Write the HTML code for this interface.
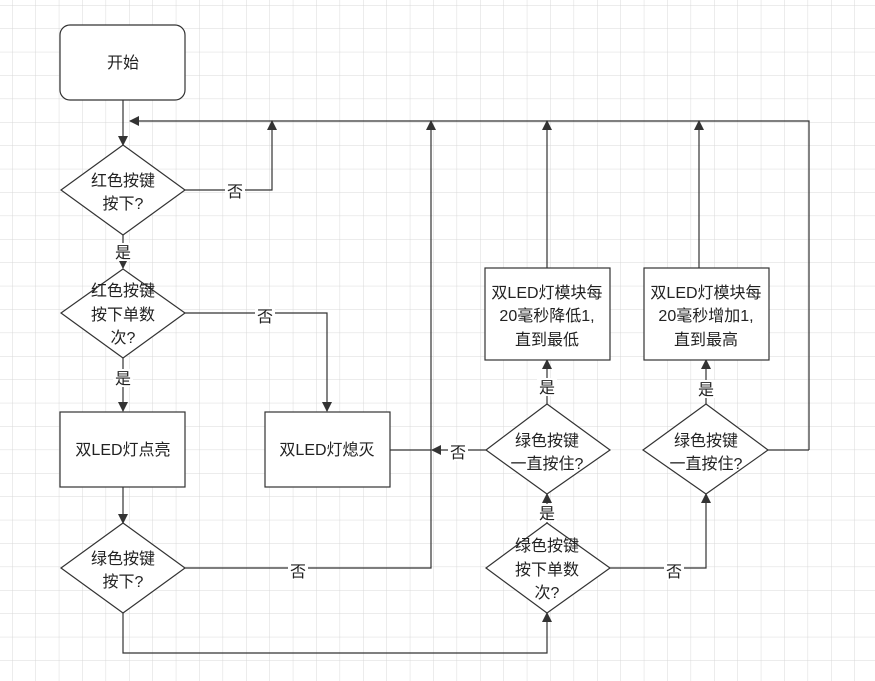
<!DOCTYPE html>
<html><head><meta charset="utf-8"><style>
html,body{margin:0;padding:0;background:#fff}
svg{display:block}
text{font-family:"Liberation Sans","Noto Sans CJK SC",sans-serif;font-size:16px;fill:#222;text-anchor:middle}
</style></head><body>
<svg width="875" height="681" viewBox="0 0 875 681" xmlns="http://www.w3.org/2000/svg">
<defs>
<pattern id="g" x="12" y="5" width="23.4" height="23.4" patternUnits="userSpaceOnUse">
<path d="M0 0H23.4M0 0V23.4" stroke="#d9d9d9" stroke-width="1" fill="none"/>
</pattern>
<marker id="a" viewBox="0 0 10 10" refX="9" refY="5" markerWidth="10" markerHeight="10" orient="auto" markerUnits="userSpaceOnUse">
<path d="M0 0L10 5L0 10z" fill="#333"/>
</marker>
</defs>
<rect width="875" height="681" fill="url(#g)"/>
<g stroke="#333" stroke-width="1.2" fill="none">
<path d="M123 100V145" marker-end="url(#a)"/>
<path d="M809 450H768"/>
<path d="M809 450V121H130" marker-end="url(#a)"/>
<path d="M185 190H272V121" marker-end="url(#a)"/>
<path d="M123 235V268" marker-end="url(#a)"/>
<path d="M123 358V411" marker-end="url(#a)"/>
<path d="M185 313H327V411" marker-end="url(#a)"/>
<path d="M123 487V523" marker-end="url(#a)"/>
<path d="M185 568H431V121" marker-end="url(#a)"/>
<path d="M390 450H431"/>
<path d="M486 450H432" marker-end="url(#a)"/>
<path d="M123 613V653H547V613" marker-end="url(#a)"/>
<path d="M547 523V494" marker-end="url(#a)"/>
<path d="M547 405V360" marker-end="url(#a)"/>
<path d="M547 268V121" marker-end="url(#a)"/>
<path d="M610 568H706V494" marker-end="url(#a)"/>
<path d="M706 404V360" marker-end="url(#a)"/>
<path d="M699 268V121" marker-end="url(#a)"/>
</g>
<g stroke="#333" stroke-width="1.2" fill="#fff">
<rect x="60" y="25" width="125" height="75" rx="10"/>
<polygon points="123,145 185,190 123,235 61,190"/>
<polygon points="123,269 185,313 123,358 61,313"/>
<rect x="60" y="412" width="125" height="75"/>
<rect x="265" y="412" width="125" height="75"/>
<polygon points="123,523 185,568 123,613 61,568"/>
<polygon points="547,523 610,568 547,613 486,568"/>
<polygon points="547,404 610,450 547,494 486,450"/>
<polygon points="706,404 768,450 706,494 643,450"/>
<rect x="485" y="268" width="125" height="92"/>
<rect x="644" y="268" width="125" height="92"/>
</g>
<g fill="#fff">
<rect x="225" y="182" width="20" height="18"/>
<rect x="113" y="243" width="20" height="18"/>
<rect x="113" y="369" width="20" height="18"/>
<rect x="255" y="307" width="20" height="18"/>
<rect x="288" y="562" width="20" height="18"/>
<rect x="448" y="443" width="20" height="18"/>
<rect x="537" y="378" width="20" height="18"/>
<rect x="537" y="504" width="20" height="18"/>
<rect x="696" y="380" width="20" height="18"/>
<rect x="664" y="562" width="20" height="18"/>
</g>
<text x="123" y="68">开始</text>
<text x="123" y="186">红色按键</text><text x="123" y="209">按下?</text>
<text x="123" y="296">红色按键</text><text x="123" y="320">按下单数</text><text x="123" y="343">次?</text>
<text x="123" y="455">双LED灯点亮</text>
<text x="327" y="455">双LED灯熄灭</text>
<text x="123" y="564">绿色按键</text><text x="123" y="587">按下?</text>
<text x="547" y="551">绿色按键</text><text x="547" y="575">按下单数</text><text x="547" y="598">次?</text>
<text x="547" y="446">绿色按键</text><text x="547" y="469">一直按住?</text>
<text x="706" y="446">绿色按键</text><text x="706" y="469">一直按住?</text>
<text x="547" y="298">双LED灯模块每</text><text x="547" y="321">20毫秒降低1,</text><text x="547" y="345">直到最低</text>
<text x="706" y="298">双LED灯模块每</text><text x="706" y="321">20毫秒增加1,</text><text x="706" y="345">直到最高</text>
<text x="235" y="197">否</text>
<text x="123" y="258">是</text>
<text x="123" y="384">是</text>
<text x="265" y="322">否</text>
<text x="298" y="577">否</text>
<text x="458" y="458">否</text>
<text x="547" y="393">是</text>
<text x="547" y="519">是</text>
<text x="706" y="395">是</text>
<text x="674" y="577">否</text>
</svg>
</body></html>
